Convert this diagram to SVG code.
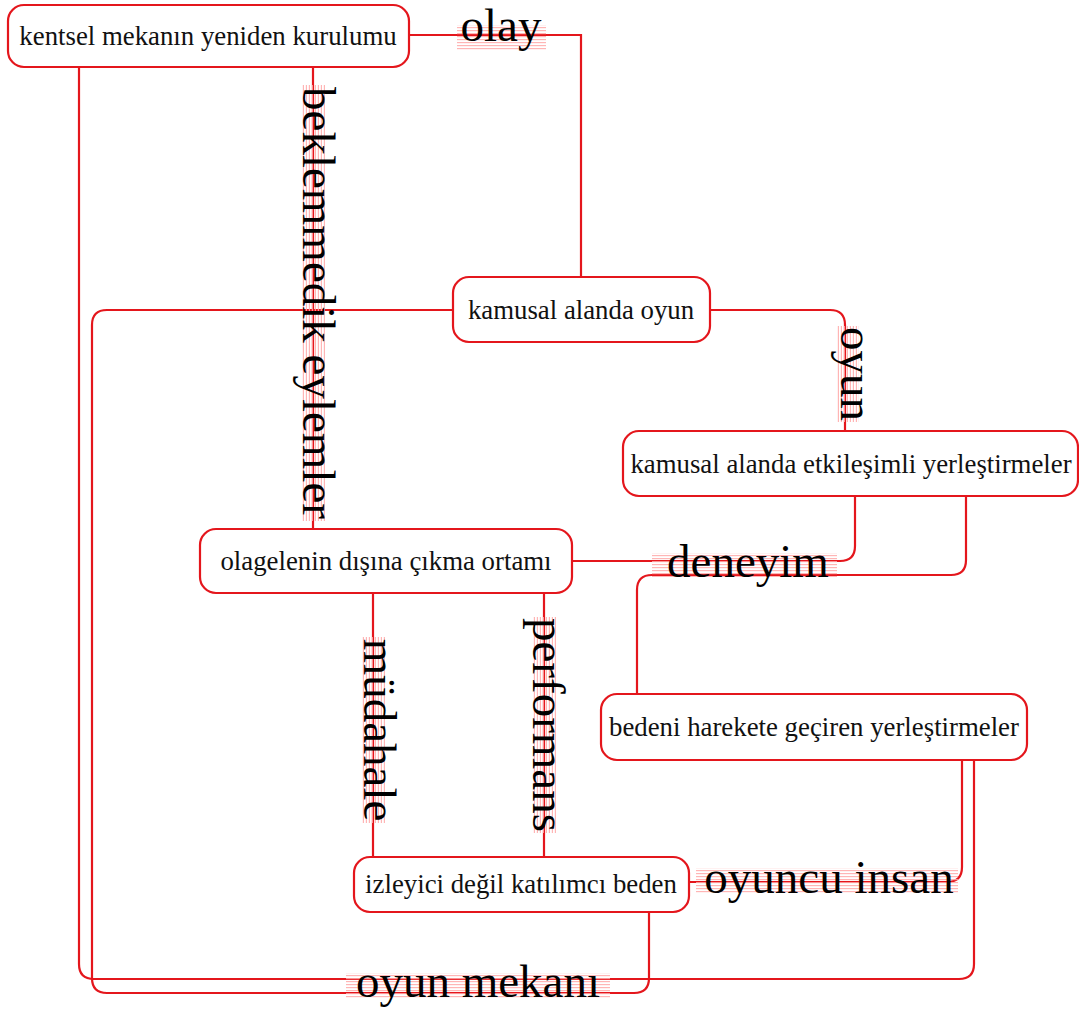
<svg xmlns="http://www.w3.org/2000/svg" width="1079" height="1010" viewBox="0 0 1079 1010">
<defs>
<pattern id="stripes" patternUnits="userSpaceOnUse" width="6" height="3">
<rect x="0" y="0" width="6" height="1.2" fill="#ffa8a8"/>
</pattern>
</defs>
<style>
.node rect{fill:#fff;stroke:#e4161c;stroke-width:2.2}
.node text{font-family:"Liberation Serif","Times New Roman",serif;font-size:26.8px;fill:#111;text-anchor:middle}
.conn path{fill:none;stroke:#e4161c;stroke-width:2.2}
.lbl text{font-family:"Liberation Serif","Times New Roman",serif;font-size:47px;fill:#000;text-anchor:middle}
.lbl rect{fill:url(#stripes);opacity:0.85}
</style>
<rect width="1079" height="1010" fill="#fff"/>
<g id="connectors" class="conn">
<path d="M409,35 H581 V277"/>
<path d="M313,67 V529"/>
<path d="M79,67 V964 Q79,979 94,979 H959 Q974,979 974,964 V760"/>
<path d="M453,310 H107 Q92,310 92,325 V978 Q92,993 107,993 H634 Q649,993 649,978 V912"/>
<path d="M710,310 H830 Q845,310 845,325 V431"/>
<path d="M855,496 V546 Q855,561 840,561 H572"/>
<path d="M966,496 V560 Q966,575 951,575 H652 Q637,575 637,590 V694"/>
<path d="M373,593 V857"/>
<path d="M544,593 V857"/>
<path d="M962,760 V867 Q962,882 947,882 H689"/>
</g>
<g id="labels" class="lbl">
<g id="lbl-olay"><rect x="457" y="25" width="89" height="25"/><text x="501" y="41">olay</text></g>
<g id="lbl-beklenmedik" transform="translate(313,303) rotate(90)"><rect x="-218" y="-12" width="436" height="23"/><text x="0" y="10">beklemmedik eylemler</text></g>
<g id="lbl-oyun" transform="translate(845,374) rotate(90)"><rect x="-48" y="-14" width="96" height="23"/><text x="0" y="4">oyun</text></g>
<g id="lbl-deneyim"><rect x="652" y="553" width="185" height="24"/><text x="748" y="577">deneyim</text></g>
<g id="lbl-mudahale" transform="translate(373,730) rotate(90)"><rect x="-93" y="-12" width="186" height="23"/><text x="0" y="9">müdahale</text></g>
<g id="lbl-performans" transform="translate(544,725) rotate(90)"><rect x="-108" y="-12" width="216" height="23"/><text x="0" y="11">performans</text></g>
<g id="lbl-oyuncu"><rect x="696" y="868" width="262" height="25"/><text x="829" y="893">oyuncu insan</text></g>
<g id="lbl-mekan"><rect x="346" y="973" width="264" height="26"/><text x="478" y="997">oyun mekanı</text></g>
</g>
<g id="n1" class="node"><rect x="8" y="5" width="401" height="62" rx="16"/><text x="208" y="45">kentsel mekanın yeniden kurulumu</text></g>
<g id="n2" class="node"><rect x="453" y="277" width="257" height="65" rx="16"/><text x="581" y="319">kamusal alanda oyun</text></g>
<g id="n3" class="node"><rect x="623" y="431" width="455" height="65" rx="16"/><text x="851" y="473">kamusal alanda etkileşimli yerleştirmeler</text></g>
<g id="n4" class="node"><rect x="200" y="529" width="372" height="64" rx="16"/><text x="386" y="570">olagelenin dışına çıkma ortamı</text></g>
<g id="n5" class="node"><rect x="601" y="694" width="426" height="66" rx="16"/><text x="814" y="736">bedeni harekete geçiren yerleştirmeler</text></g>
<g id="n6" class="node"><rect x="354" y="857" width="335" height="55" rx="16"/><text x="521" y="893">izleyici değil katılımcı beden</text></g>
</svg>
